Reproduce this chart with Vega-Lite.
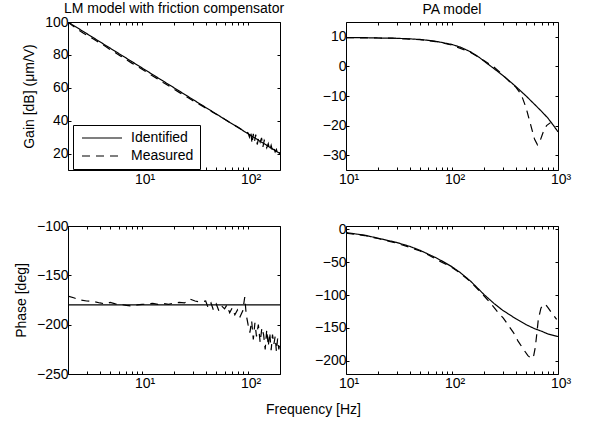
{
  "$schema": "https://vega.github.io/schema/vega-lite/v6.json",
  "autosize": {"type": "none"},
  "padding": {"left": 68, "top": 22, "right": 521, "bottom": 404},
  "background": "white",
  "bounds": "flush",
  "columns": 2,
  "spacing": {"row": 56, "column": 66},
  "datasets": {
    "lmGain": [
      {"f": 2, "v": 100, "s": "Identified"}, {"f": 10, "v": 72.04, "s": "Identified"}, {"f": 100, "v": 32.04, "s": "Identified"}, {"f": 200, "v": 20, "s": "Identified"},
      {"f": 2, "v": 99.8, "s": "Measured"}, {"f": 2.2, "v": 97.8, "s": "Measured"}, {"f": 2.5, "v": 95.2, "s": "Measured"}, {"f": 2.8, "v": 93.2, "s": "Measured"},
      {"f": 3.2, "v": 91.0, "s": "Measured"}, {"f": 3.6, "v": 89.0, "s": "Measured"}, {"f": 4, "v": 87.2, "s": "Measured"}, {"f": 4.5, "v": 85.2, "s": "Measured"},
      {"f": 5, "v": 83.2, "s": "Measured"}, {"f": 5.6, "v": 81.3, "s": "Measured"}, {"f": 6.3, "v": 79.2, "s": "Measured"}, {"f": 7.1, "v": 77.1, "s": "Measured"},
      {"f": 8, "v": 75.0, "s": "Measured"}, {"f": 9, "v": 73.1, "s": "Measured"}, {"f": 10, "v": 71.2, "s": "Measured"}, {"f": 11.2, "v": 69.3, "s": "Measured"},
      {"f": 12.6, "v": 67.2, "s": "Measured"}, {"f": 14.1, "v": 65.3, "s": "Measured"}, {"f": 15.8, "v": 63.2, "s": "Measured"}, {"f": 17.8, "v": 61.2, "s": "Measured"},
      {"f": 20, "v": 59.1, "s": "Measured"}, {"f": 22.4, "v": 57.2, "s": "Measured"}, {"f": 25.1, "v": 55.3, "s": "Measured"}, {"f": 28.2, "v": 53.3, "s": "Measured"},
      {"f": 31.6, "v": 51.4, "s": "Measured"}, {"f": 35.5, "v": 49.6, "s": "Measured"}, {"f": 39.8, "v": 47.7, "s": "Measured"}, {"f": 44.7, "v": 45.8, "s": "Measured"},
      {"f": 50.1, "v": 43.9, "s": "Measured"}, {"f": 56.2, "v": 42.0, "s": "Measured"}, {"f": 63.1, "v": 40.0, "s": "Measured"}, {"f": 70.8, "v": 38.1, "s": "Measured"},
      {"f": 79.4, "v": 36.3, "s": "Measured"}, {"f": 89.1, "v": 34.2, "s": "Measured"}, {"f": 100, "v": 32.5, "s": "Measured"}, {"f": 103, "v": 30.0, "s": "Measured"},
      {"f": 106, "v": 33.5, "s": "Measured"}, {"f": 109, "v": 26.0, "s": "Measured"}, {"f": 112, "v": 32.0, "s": "Measured"}, {"f": 115, "v": 27.5, "s": "Measured"},
      {"f": 118, "v": 31.5, "s": "Measured"}, {"f": 122, "v": 25.5, "s": "Measured"}, {"f": 126, "v": 30.0, "s": "Measured"}, {"f": 130, "v": 27.0, "s": "Measured"},
      {"f": 134, "v": 29.5, "s": "Measured"}, {"f": 138, "v": 24.0, "s": "Measured"}, {"f": 142, "v": 28.0, "s": "Measured"}, {"f": 146, "v": 26.5, "s": "Measured"},
      {"f": 150, "v": 23.5, "s": "Measured"}, {"f": 155, "v": 26.0, "s": "Measured"}, {"f": 160, "v": 22.0, "s": "Measured"}, {"f": 165, "v": 25.0, "s": "Measured"},
      {"f": 170, "v": 21.5, "s": "Measured"}, {"f": 175, "v": 23.5, "s": "Measured"}, {"f": 180, "v": 21.0, "s": "Measured"}, {"f": 185, "v": 22.5, "s": "Measured"},
      {"f": 190, "v": 20.0, "s": "Measured"}, {"f": 195, "v": 21.5, "s": "Measured"}, {"f": 200, "v": 19.5, "s": "Measured"}
    ],
    "paGain": [
      {"f": 10, "v": 9.7, "s": "Identified"}, {"f": 15, "v": 9.7, "s": "Identified"}, {"f": 20, "v": 9.6, "s": "Identified"}, {"f": 30, "v": 9.5, "s": "Identified"},
      {"f": 40, "v": 9.3, "s": "Identified"}, {"f": 50, "v": 9.1, "s": "Identified"}, {"f": 60, "v": 8.8, "s": "Identified"}, {"f": 70, "v": 8.5, "s": "Identified"},
      {"f": 80, "v": 8.1, "s": "Identified"}, {"f": 100, "v": 7.4, "s": "Identified"}, {"f": 120, "v": 6.5, "s": "Identified"}, {"f": 150, "v": 4.9, "s": "Identified"},
      {"f": 180, "v": 3.1, "s": "Identified"}, {"f": 200, "v": 1.8, "s": "Identified"}, {"f": 250, "v": -0.8, "s": "Identified"}, {"f": 300, "v": -3.0, "s": "Identified"},
      {"f": 350, "v": -5.0, "s": "Identified"}, {"f": 400, "v": -6.8, "s": "Identified"}, {"f": 450, "v": -8.5, "s": "Identified"}, {"f": 500, "v": -10.0, "s": "Identified"},
      {"f": 600, "v": -12.8, "s": "Identified"}, {"f": 700, "v": -15.2, "s": "Identified"}, {"f": 800, "v": -17.4, "s": "Identified"}, {"f": 900, "v": -19.8, "s": "Identified"},
      {"f": 1000, "v": -22.1, "s": "Identified"},
      {"f": 10, "v": 9.7, "s": "Measured"}, {"f": 20, "v": 9.6, "s": "Measured"}, {"f": 30, "v": 9.5, "s": "Measured"}, {"f": 50, "v": 9.0, "s": "Measured"},
      {"f": 70, "v": 8.4, "s": "Measured"}, {"f": 100, "v": 7.2, "s": "Measured"}, {"f": 150, "v": 4.7, "s": "Measured"}, {"f": 200, "v": 2.0, "s": "Measured"},
      {"f": 250, "v": -0.3, "s": "Measured"}, {"f": 300, "v": -2.8, "s": "Measured"}, {"f": 350, "v": -5.2, "s": "Measured"}, {"f": 400, "v": -7.0, "s": "Measured"},
      {"f": 450, "v": -9.5, "s": "Measured"}, {"f": 500, "v": -14, "s": "Measured"}, {"f": 550, "v": -19.5, "s": "Measured"}, {"f": 600, "v": -24.5, "s": "Measured"},
      {"f": 640, "v": -26.5, "s": "Measured"}, {"f": 680, "v": -25, "s": "Measured"}, {"f": 720, "v": -22.5, "s": "Measured"}, {"f": 780, "v": -20, "s": "Measured"},
      {"f": 850, "v": -19.0, "s": "Measured"}
    ],
    "lmPhase": [
      {"f": 2, "v": -180, "s": "Identified"}, {"f": 200, "v": -180, "s": "Identified"},
      {"f": 2, "v": -171, "s": "Measured"}, {"f": 2.3, "v": -173, "s": "Measured"}, {"f": 2.6, "v": -175, "s": "Measured"}, {"f": 3, "v": -176, "s": "Measured"},
      {"f": 3.5, "v": -176.5, "s": "Measured"}, {"f": 4, "v": -178, "s": "Measured"}, {"f": 4.5, "v": -179, "s": "Measured"}, {"f": 5, "v": -177.5, "s": "Measured"},
      {"f": 5.6, "v": -179, "s": "Measured"}, {"f": 6.3, "v": -179.5, "s": "Measured"}, {"f": 7.1, "v": -180.5, "s": "Measured"}, {"f": 8, "v": -181, "s": "Measured"},
      {"f": 9, "v": -180, "s": "Measured"}, {"f": 10, "v": -179.5, "s": "Measured"}, {"f": 11.2, "v": -179, "s": "Measured"}, {"f": 12.6, "v": -178.5, "s": "Measured"},
      {"f": 14.1, "v": -179.5, "s": "Measured"}, {"f": 15.8, "v": -178.5, "s": "Measured"}, {"f": 17.8, "v": -179.5, "s": "Measured"}, {"f": 20, "v": -178, "s": "Measured"},
      {"f": 22.4, "v": -177.5, "s": "Measured"}, {"f": 25.1, "v": -178, "s": "Measured"}, {"f": 28.2, "v": -174, "s": "Measured"}, {"f": 31.6, "v": -176, "s": "Measured"},
      {"f": 35.5, "v": -177, "s": "Measured"}, {"f": 39.8, "v": -176, "s": "Measured"}, {"f": 42, "v": -183, "s": "Measured"}, {"f": 44.7, "v": -178, "s": "Measured"},
      {"f": 47, "v": -185, "s": "Measured"}, {"f": 50.1, "v": -179, "s": "Measured"}, {"f": 53, "v": -186, "s": "Measured"}, {"f": 56.2, "v": -181, "s": "Measured"},
      {"f": 60, "v": -184, "s": "Measured"}, {"f": 63.1, "v": -180, "s": "Measured"}, {"f": 67, "v": -188, "s": "Measured"}, {"f": 70.8, "v": -183, "s": "Measured"},
      {"f": 75, "v": -190, "s": "Measured"}, {"f": 79.4, "v": -185, "s": "Measured"}, {"f": 84, "v": -192, "s": "Measured"}, {"f": 89.1, "v": -186, "s": "Measured"},
      {"f": 93, "v": -172, "s": "Measured"}, {"f": 96, "v": -190, "s": "Measured"}, {"f": 100, "v": -200, "s": "Measured"}, {"f": 104, "v": -208, "s": "Measured"},
      {"f": 108, "v": -196, "s": "Measured"}, {"f": 112, "v": -215, "s": "Measured"}, {"f": 116, "v": -198, "s": "Measured"}, {"f": 120, "v": -212, "s": "Measured"},
      {"f": 125, "v": -200, "s": "Measured"}, {"f": 130, "v": -218, "s": "Measured"}, {"f": 135, "v": -203, "s": "Measured"}, {"f": 140, "v": -210, "s": "Measured"},
      {"f": 145, "v": -225, "s": "Measured"}, {"f": 150, "v": -205, "s": "Measured"}, {"f": 155, "v": -222, "s": "Measured"}, {"f": 160, "v": -208, "s": "Measured"},
      {"f": 165, "v": -226, "s": "Measured"}, {"f": 170, "v": -210, "s": "Measured"}, {"f": 175, "v": -220, "s": "Measured"}, {"f": 180, "v": -212, "s": "Measured"},
      {"f": 185, "v": -227, "s": "Measured"}, {"f": 190, "v": -214, "s": "Measured"}, {"f": 195, "v": -225, "s": "Measured"}, {"f": 200, "v": -218, "s": "Measured"}
    ],
    "paPhase": [
      {"f": 10, "v": -5, "s": "Identified"}, {"f": 15, "v": -9, "s": "Identified"}, {"f": 20, "v": -13.5, "s": "Identified"}, {"f": 30, "v": -20, "s": "Identified"},
      {"f": 40, "v": -26, "s": "Identified"}, {"f": 50, "v": -32, "s": "Identified"}, {"f": 60, "v": -38, "s": "Identified"}, {"f": 70, "v": -43, "s": "Identified"},
      {"f": 80, "v": -48, "s": "Identified"}, {"f": 100, "v": -57, "s": "Identified"}, {"f": 120, "v": -66, "s": "Identified"}, {"f": 150, "v": -79, "s": "Identified"},
      {"f": 200, "v": -99, "s": "Identified"}, {"f": 250, "v": -113, "s": "Identified"}, {"f": 300, "v": -123, "s": "Identified"}, {"f": 400, "v": -136, "s": "Identified"},
      {"f": 500, "v": -145, "s": "Identified"}, {"f": 600, "v": -151, "s": "Identified"}, {"f": 700, "v": -155, "s": "Identified"}, {"f": 800, "v": -159, "s": "Identified"},
      {"f": 1000, "v": -163, "s": "Identified"},
      {"f": 10, "v": -6, "s": "Measured"}, {"f": 15, "v": -9.5, "s": "Measured"}, {"f": 20, "v": -14, "s": "Measured"}, {"f": 30, "v": -21, "s": "Measured"},
      {"f": 40, "v": -27.5, "s": "Measured"}, {"f": 50, "v": -33, "s": "Measured"}, {"f": 60, "v": -39, "s": "Measured"}, {"f": 70, "v": -45, "s": "Measured"},
      {"f": 80, "v": -50, "s": "Measured"}, {"f": 100, "v": -58, "s": "Measured"}, {"f": 120, "v": -67, "s": "Measured"}, {"f": 150, "v": -80, "s": "Measured"},
      {"f": 180, "v": -93, "s": "Measured"}, {"f": 200, "v": -101, "s": "Measured"}, {"f": 230, "v": -112, "s": "Measured"}, {"f": 270, "v": -126, "s": "Measured"},
      {"f": 305, "v": -135, "s": "Measured"}, {"f": 340, "v": -146, "s": "Measured"}, {"f": 380, "v": -157, "s": "Measured"}, {"f": 420, "v": -170, "s": "Measured"},
      {"f": 470, "v": -182, "s": "Measured"}, {"f": 520, "v": -192, "s": "Measured"}, {"f": 565, "v": -197, "s": "Measured"}, {"f": 590, "v": -192, "s": "Measured"},
      {"f": 610, "v": -180, "s": "Measured"}, {"f": 630, "v": -160, "s": "Measured"}, {"f": 652, "v": -137, "s": "Measured"}, {"f": 690, "v": -120, "s": "Measured"},
      {"f": 727, "v": -114, "s": "Measured"}, {"f": 770, "v": -115, "s": "Measured"}, {"f": 811, "v": -120, "s": "Measured"}, {"f": 880, "v": -128, "s": "Measured"},
      {"f": 971, "v": -137, "s": "Measured"}
    ]
  },
  "concat": [
    {
      "width": 212, "height": 148,
      "title": {"text": "LM model with friction compensator", "offset": -1},
      "data": {"name": "lmGain"},
      "layer": [
        {
          "mark": {"type": "line", "color": "black", "strokeWidth": 1.2, "clip": true},
          "encoding": {
            "x": {"field": "f", "type": "quantitative", "scale": {"type": "log", "domain": [2, 200], "nice": false},
              "axis": {"orient": "bottom", "title": null, "values": [2,3,4,5,6,7,8,9,10,20,30,40,50,60,70,80,90,100,200], "labelExpr": "datum.value == 10 ? '10¹' : datum.value == 100 ? '10²' : ''"}},
            "y": {"field": "v", "type": "quantitative", "scale": {"domain": [10, 100], "nice": false, "zero": false},
              "axis": {"orient": "left", "title": "Gain [dB] (μm/V)", "values": [20, 40, 60, 80, 100]}},
            "strokeDash": {"field": "s", "type": "nominal", "scale": {"domain": ["Identified", "Measured"], "range": [[1, 0], [8, 6]]},
              "legend": {"orient": "none", "legendX": 5, "legendY": 103}}
          }
        },
        {
          "mark": {"type": "line", "opacity": 0},
          "encoding": {
            "x": {"field": "f", "type": "quantitative", "axis": {"orient": "top", "title": null, "labels": false, "values": [2,3,4,5,6,7,8,9,10,20,30,40,50,60,70,80,90,100,200]}},
            "y": {"field": "v", "type": "quantitative", "axis": {"orient": "right", "title": null, "labels": false, "values": [20, 40, 60, 80, 100]}},
            "detail": {"field": "s"}
          }
        }
      ],
      "resolve": {"axis": {"x": "independent", "y": "independent"}}
    },
    {
      "width": 212, "height": 148,
      "title": {"text": "PA model", "offset": 5},
      "data": {"name": "paGain"},
      "layer": [
        {
          "mark": {"type": "line", "color": "black", "strokeWidth": 1.2, "clip": true},
          "encoding": {
            "x": {"field": "f", "type": "quantitative", "scale": {"type": "log", "domain": [10, 1000], "nice": false},
              "axis": {"orient": "bottom", "title": null, "values": [10,20,30,40,50,60,70,80,90,100,200,300,400,500,600,700,800,900,1000], "labelExpr": "datum.value == 10 ? '10¹' : datum.value == 100 ? '10²' : datum.value == 1000 ? '10³' : ''"}},
            "y": {"field": "v", "type": "quantitative", "scale": {"domain": [-35, 15], "nice": false, "zero": false},
              "axis": {"orient": "left", "title": null, "values": [-30, -20, -10, 0, 10]}},
            "strokeDash": {"field": "s", "type": "nominal", "scale": {"domain": ["Identified", "Measured"], "range": [[1, 0], [8, 6]]},
              "legend": {"orient": "none", "legendX": 5, "legendY": 103}}
          }
        },
        {
          "mark": {"type": "line", "opacity": 0},
          "encoding": {
            "x": {"field": "f", "type": "quantitative", "axis": {"orient": "top", "title": null, "labels": false, "values": [10,20,30,40,50,60,70,80,90,100,200,300,400,500,600,700,800,900,1000]}},
            "y": {"field": "v", "type": "quantitative", "axis": {"orient": "right", "title": null, "labels": false, "values": [-30, -20, -10, 0, 10]}},
            "detail": {"field": "s"}
          }
        }
      ],
      "resolve": {"axis": {"x": "independent", "y": "independent"}}
    },
    {
      "width": 212, "height": 148,
      "data": {"name": "lmPhase"},
      "layer": [
        {
          "mark": {"type": "line", "color": "black", "strokeWidth": 1.2, "clip": true},
          "encoding": {
            "x": {"field": "f", "type": "quantitative", "scale": {"type": "log", "domain": [2, 200], "nice": false},
              "axis": {"orient": "bottom", "title": "Frequency [Hz]", "titleX": 245, "titleY": 28, "titleBaseline": "top", "titleAlign": "center", "values": [2,3,4,5,6,7,8,9,10,20,30,40,50,60,70,80,90,100,200], "labelExpr": "datum.value == 10 ? '10¹' : datum.value == 100 ? '10²' : ''"}},
            "y": {"field": "v", "type": "quantitative", "scale": {"domain": [-250, -100], "nice": false, "zero": false},
              "axis": {"orient": "left", "title": "Phase [deg]", "values": [-250, -200, -150, -100]}},
            "strokeDash": {"field": "s", "type": "nominal", "scale": {"domain": ["Identified", "Measured"], "range": [[1, 0], [8, 6]]}, "legend": null}
          }
        },
        {
          "mark": {"type": "line", "opacity": 0},
          "encoding": {
            "x": {"field": "f", "type": "quantitative", "axis": {"orient": "top", "title": null, "labels": false, "values": [2,3,4,5,6,7,8,9,10,20,30,40,50,60,70,80,90,100,200]}},
            "y": {"field": "v", "type": "quantitative", "axis": {"orient": "right", "title": null, "labels": false, "values": [-250, -200, -150, -100]}},
            "detail": {"field": "s"}
          }
        }
      ],
      "resolve": {"axis": {"x": "independent", "y": "independent"}}
    },
    {
      "width": 212, "height": 148,
      "data": {"name": "paPhase"},
      "layer": [
        {
          "mark": {"type": "line", "color": "black", "strokeWidth": 1.2, "clip": true},
          "encoding": {
            "x": {"field": "f", "type": "quantitative", "scale": {"type": "log", "domain": [10, 1000], "nice": false},
              "axis": {"orient": "bottom", "title": null, "values": [10,20,30,40,50,60,70,80,90,100,200,300,400,500,600,700,800,900,1000], "labelExpr": "datum.value == 10 ? '10¹' : datum.value == 100 ? '10²' : datum.value == 1000 ? '10³' : ''"}},
            "y": {"field": "v", "type": "quantitative", "scale": {"domain": [-220, 5], "nice": false, "zero": false},
              "axis": {"orient": "left", "title": null, "values": [-200, -150, -100, -50, 0]}},
            "strokeDash": {"field": "s", "type": "nominal", "scale": {"domain": ["Identified", "Measured"], "range": [[1, 0], [8, 6]]}, "legend": null}
          }
        },
        {
          "mark": {"type": "line", "opacity": 0},
          "encoding": {
            "x": {"field": "f", "type": "quantitative", "axis": {"orient": "top", "title": null, "labels": false, "values": [10,20,30,40,50,60,70,80,90,100,200,300,400,500,600,700,800,900,1000]}},
            "y": {"field": "v", "type": "quantitative", "axis": {"orient": "right", "title": null, "labels": false, "values": [-200, -150, -100, -50, 0]}},
            "detail": {"field": "s"}
          }
        }
      ],
      "resolve": {"axis": {"x": "independent", "y": "independent"}}
    }
  ],
  "config": {
    "font": "Liberation Sans",
    "view": {"stroke": "black", "strokeWidth": 1},
    "title": {"fontSize": 14, "fontWeight": "normal", "color": "black", "anchor": "middle", "frame": "group", "font": "Liberation Sans"},
    "axis": {
      "grid": false, "domain": false, "tickColor": "black", "tickSize": -3, "tickWidth": 1,
      "labelFontSize": 14, "labelColor": "black", "labelFont": "Liberation Sans",
      "titleFontSize": 14, "titleFontWeight": "normal", "titleColor": "black", "titleFont": "Liberation Sans", "titlePadding": 8,
      "labelFlush": false, "labelOverlap": false
    },
    "axisX": {"labelPadding": 5, "labelOffset": 2.5},
    "axisY": {"labelPadding": 3},
    "legend": {
      "title": null, "symbolType": "M-1,0H9", "symbolSize": 64, "symbolStrokeWidth": 1.2, "symbolStrokeColor": "black",
      "labelFontSize": 14, "labelFont": "Liberation Sans", "labelColor": "black",
      "strokeColor": "black", "fillColor": "white", "padding": 6, "rowPadding": 4, "labelOffset": 38
    }
  }
}
